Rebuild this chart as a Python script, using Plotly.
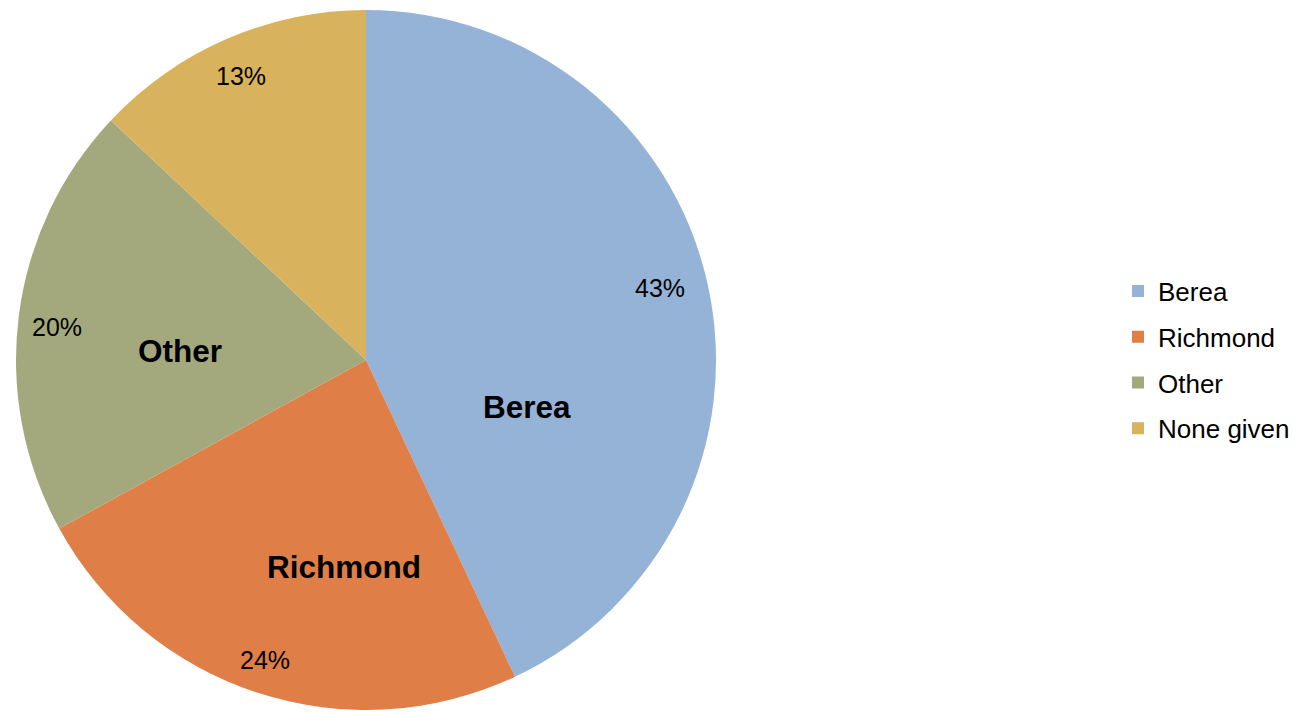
import plotly.graph_objects as go

categories = ["Berea", "Richmond", "Other", "None given"]
values = [43, 24, 20, 13]
colors = ["#95B3D7", "#DF7F47", "#A4A97D", "#D8B25D"]

W, H = 1306, 713

# label text positions (pixels in the picture)
pct_pos = [(660, 288), (265, 660), (57, 327), (241, 76)]
name_pos = [(527, 407), (344, 567), (180, 351), None]

fig = go.Figure()
fig.add_trace(go.Pie(
    labels=categories, values=values, sort=False, direction="clockwise", rotation=0,
    marker=dict(colors=colors, line=dict(width=0)),
    textinfo="none", hoverinfo="label+percent", showlegend=False,
    domain=dict(x=[16 / W, 716 / W], y=[3 / H, 703 / H]),
))

for c, col in zip(categories, colors):
    fig.add_trace(go.Scatter(
        x=[None], y=[None], mode="markers", name=c, legendgroup=c,
        marker=dict(symbol="square", size=12, color=col),
    ))

for c, v, p, n in zip(categories, values, pct_pos, name_pos):
    fig.add_annotation(x=p[0] / W, y=1 - p[1] / H, xref="paper", yref="paper",
                       xanchor="center", yanchor="middle",
                       text=f"{v}%", showarrow=False,
                       font=dict(size=25, color="#000000"))
    if n is not None:
        fig.add_annotation(x=n[0] / W, y=1 - n[1] / H, xref="paper", yref="paper",
                           xanchor="center", yanchor="middle",
                           text=f"<b>{c}</b>", showarrow=False,
                           font=dict(size=31.5, color="#000000"))

fig.update_layout(
    width=W, height=H,
    margin=dict(l=0, r=0, t=0, b=0),
    paper_bgcolor="white", plot_bgcolor="white",
    font=dict(family="Liberation Sans, Arial, sans-serif", color="#000000"),
    xaxis=dict(visible=False), yaxis=dict(visible=False),
    legend=dict(x=1118 / W, xanchor="left", y=1 - 360 / H, yanchor="middle",
                font=dict(size=26), tracegroupgap=9, itemwidth=30,
                bgcolor="rgba(0,0,0,0)"),
)

fig.write_html("out.html", config={"displayModeBar": False},
               post_script="document.body.style.margin='0';")
